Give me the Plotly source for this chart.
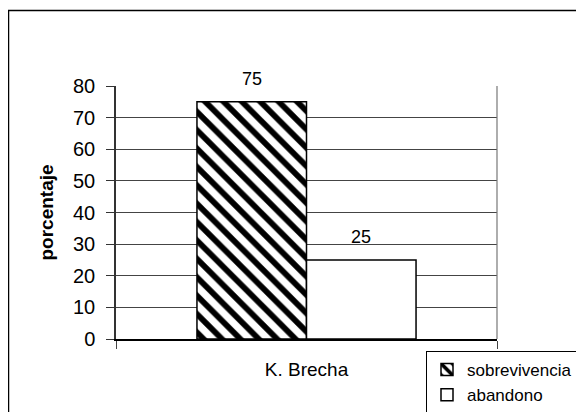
import plotly.graph_objects as go

categories = ["K. Brecha"]
series_names = ["sobrevivencia", "abandono"]
sobrevivencia = [75]
abandono = [25]
y_ticks = [0, 10, 20, 30, 40, 50, 60, 70, 80]

# the page body has an 8px margin, so the figure is laid out 8px up/left
OFF = 8
W, H = 584 - OFF, 412 - OFF
L, R, T, B = 116 - OFF, 497 - OFF, 86 - OFF, 339 - OFF  # plot area in pixels
pw, ph = R - L, B - T

def px_x(x):
    return (x - OFF - L) / pw

def px_y(y):
    return (B - (y - OFF)) / ph

FONT = "Liberation Sans, Arial, sans-serif"

fig = go.Figure()
fig.add_trace(go.Bar(
    x=categories, y=sobrevivencia, name=series_names[0],
    marker=dict(color="white", line=dict(color="black", width=1.5),
                pattern=dict(shape="\\", fgcolor="black", bgcolor="white",
                             size=13, solidity=0.45, fillmode="replace")),
))
fig.add_trace(go.Bar(
    x=categories, y=abandono, name=series_names[1],
    marker=dict(color="white", line=dict(color="black", width=1.5)),
))

for i, vals in enumerate([sobrevivencia, abandono]):
    for c, v in zip(categories, vals):
        fig.add_annotation(x=c, y=v, text=str(v), showarrow=False,
                           xshift=(-1 if i == 0 else 1) * pw * (1 - 0.425) / 4,
                           yanchor="bottom", yshift=11,
                           font=dict(family=FONT, size=18, color="black"))

# outer chart border
fig.add_shape(type="rect", xref="paper", yref="paper",
              x0=px_x(8.5), x1=px_x(620), y0=px_y(440), y1=px_y(10.5),
              line=dict(color="black", width=1.5), fillcolor="rgba(0,0,0,0)", layer="below")
# right plot-area border
fig.add_shape(type="line", xref="paper", yref="paper",
              x0=1, x1=1, y0=0, y1=1, line=dict(color="#777", width=1.2))

fig.update_layout(
    width=W, height=H,
    margin=dict(l=L, r=W - R, t=T, b=H - B, pad=0, autoexpand=False),
    paper_bgcolor="white", plot_bgcolor="white",
    barmode="group", bargap=0.425, bargroupgap=0,
    font=dict(family=FONT, size=18, color="black"),
    showlegend=True,
    legend=dict(xref="container", yref="container",
                x=(426 - OFF) / W, y=1 - (351 - OFF) / H, xanchor="left", yanchor="top",
                bgcolor="white", bordercolor="black", borderwidth=1,
                font=dict(family=FONT, size=17, color="black"),
                tracegroupgap=0, itemwidth=30),
    xaxis=dict(showline=True, linecolor="black", linewidth=1.5,
               ticks="outside", tickson="boundaries", ticklen=8,
               tickcolor="#444", tickwidth=1.2, automargin=False,
               ticklabelstandoff=12, showgrid=False,
               tickfont=dict(family=FONT, size=19)),
    yaxis=dict(range=[0, 80], tickvals=y_ticks, showline=True, linecolor="#333",
               linewidth=1.5, ticks="outside", ticklen=8, tickcolor="#333",
               tickwidth=1.2, ticklabelstandoff=7, showgrid=True,
               gridcolor="#444", gridwidth=1, zeroline=False, automargin=False,
               tickfont=dict(family=FONT, size=20),
               title=dict(text="<b>porcentaje</b>", standoff=14,
                          font=dict(family=FONT, size=19))),
)

fig.write_html("out.html")
